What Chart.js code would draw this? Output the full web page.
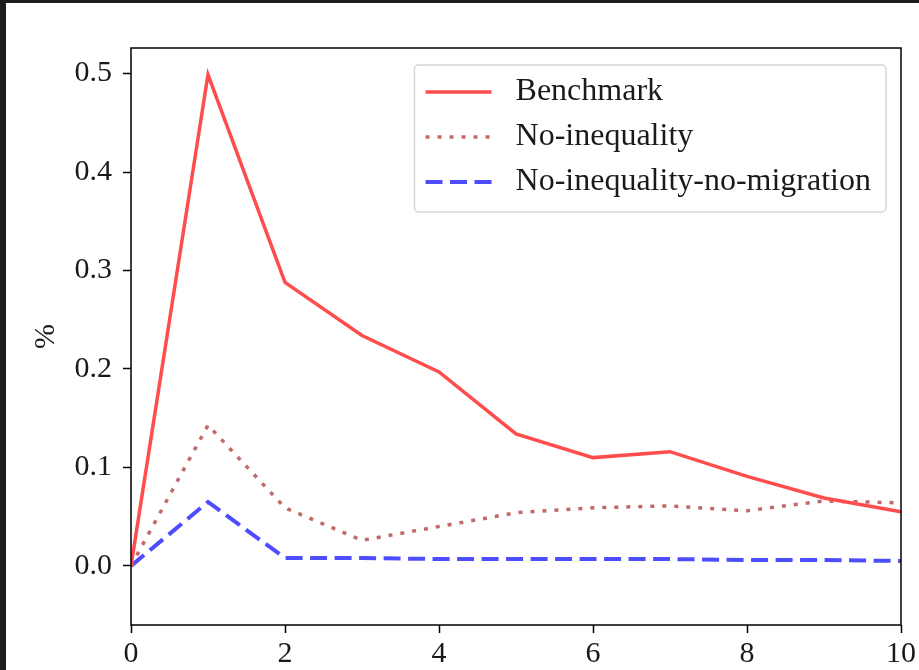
<!DOCTYPE html>
<html>
<head>
<meta charset="utf-8">
<script src="https://cdn.jsdelivr.net/npm/chart.js@4.4.1/dist/chart.umd.min.js"></script>
<style>
html, body { margin: 0; padding: 0; background: #1e1e1e; }
#wrap { position: absolute; left: 6px; top: 3px; width: 913px; height: 667px; background: #fff; }
</style>
</head>
<body>
<div id="wrap"><canvas id="myChart" width="913" height="667"></canvas></div>
<script>
// values
const periods = [0, 1, 2, 3, 4, 5, 6, 7, 8, 9, 10];
const benchmark = [0.0, 0.499, 0.288, 0.234, 0.197, 0.134, 0.110, 0.116, 0.091, 0.069, 0.055];
const noInequality = [0.0, 0.143, 0.059, 0.026, 0.040, 0.054, 0.059, 0.061, 0.056, 0.066, 0.064];
const noInequalityNoMigration = [0.0, 0.065, 0.008, 0.008, 0.007, 0.007, 0.007, 0.007, 0.006, 0.006, 0.005];
const xTicks = [0, 2, 4, 6, 8, 10];
const yTicks = [0.0, 0.1, 0.2, 0.3, 0.4, 0.5];

const serif = '"Liberation Serif", "DejaVu Serif", serif';
const fontSize = 30;
const legendSize = 32;

function toPoints(vals) {
    return periods.map((p, i) => ({ x: p, y: vals[i] }));
}

// box around the plot area, like the matplotlib spines
const frameBox = {
    id: 'frameBox',
    afterDatasetsDraw(chart) {
        const a = chart.chartArea;
        const ctx = chart.ctx;
        ctx.save();
        ctx.strokeStyle = '#000';
        ctx.lineWidth = 1.5;
        ctx.strokeRect(a.left, a.top, a.right - a.left, a.bottom - a.top);
        ctx.restore();
    }
};

// legend drawn inside the upper right of the plot
const boxLegend = {
    id: 'boxLegend',
    afterDraw(chart) {
        const ctx = chart.ctx;
        const a = chart.chartArea;
        const sets = chart.data.datasets;
        ctx.save();
        ctx.font = legendSize + 'px ' + serif;
        const textW = Math.max(...sets.map(d => ctx.measureText(d.label).width));
        const right = a.right - 15;
        const top = a.top + 17;
        const left = right - (101 + textW + 15);
        const h = 147;
        ctx.beginPath();
        ctx.roundRect(left, top, right - left, h, 4);
        ctx.fillStyle = 'rgba(255,255,255,0.85)';
        ctx.fill();
        ctx.strokeStyle = '#d6d6d6';
        ctx.lineWidth = 1.5;
        ctx.stroke();
        sets.forEach((d, i) => {
            const y = top + 27 + i * 45;
            ctx.beginPath();
            ctx.setLineDash(d.borderDash || []);
            ctx.strokeStyle = d.borderColor;
            ctx.lineWidth = d.borderWidth;
            ctx.moveTo(left + 11, y);
            ctx.lineTo(left + 77, y);
            ctx.stroke();
            ctx.setLineDash([]);
            ctx.fillStyle = '#1a1a1a';
            ctx.textBaseline = 'middle';
            ctx.fillText(d.label, left + 101, y);
        });
        ctx.restore();
    }
};

const tickFont = { family: serif, size: fontSize };

new Chart(document.getElementById('myChart'), {
    type: 'line',
    data: {
        datasets: [{
            label: 'Benchmark',
            data: toPoints(benchmark),
            borderColor: 'rgb(255,77,77)',
            borderWidth: 3.5,
            pointRadius: 0,
            tension: 0
        }, {
            label: 'No-inequality',
            data: toPoints(noInequality),
            borderColor: 'rgb(192,106,106)',
            borderWidth: 3.5,
            borderDash: [4, 8],
            pointRadius: 0,
            tension: 0
        }, {
            label: 'No-inequality-no-migration',
            data: toPoints(noInequalityNoMigration),
            borderColor: 'rgb(77,77,255)',
            borderWidth: 4,
            borderDash: [17, 7.5],
            pointRadius: 0,
            tension: 0
        }]
    },
    options: {
        responsive: false,
        devicePixelRatio: 1,
        animation: false,
        layout: { padding: { top: 45, right: 16, left: 0, bottom: 0 } },
        plugins: {
            legend: { display: false },
            tooltip: { enabled: false }
        },
        scales: {
            x: {
                type: 'linear',
                min: 0,
                max: 10,
                afterBuildTicks: s => { s.ticks = xTicks.map(v => ({ value: v })); },
                afterFit: s => { s.height = 45; },
                border: { display: false },
                grid: { drawOnChartArea: false, tickLength: 8, color: '#000', tickWidth: 1.5 },
                ticks: { font: tickFont, color: '#1a1a1a', padding: 3, maxRotation: 0, autoSkip: false,
                    callback: v => String(v) }
            },
            y: {
                type: 'linear',
                min: -0.06,
                max: 0.526,
                afterBuildTicks: s => { s.ticks = yTicks.map(v => ({ value: v })); },
                afterFit: s => { s.width = 125; },
                border: { display: false },
                grid: { drawOnChartArea: false, tickLength: 8, color: '#000', tickWidth: 1.5 },
                ticks: { font: tickFont, color: '#1a1a1a', padding: 11, autoSkip: false,
                    callback: v => v.toFixed(1) },
                title: { display: true, text: '%', font: tickFont, color: '#1a1a1a', padding: 22 }
            }
        }
    },
    plugins: [frameBox, boxLegend]
});
</script>
</body>
</html>
